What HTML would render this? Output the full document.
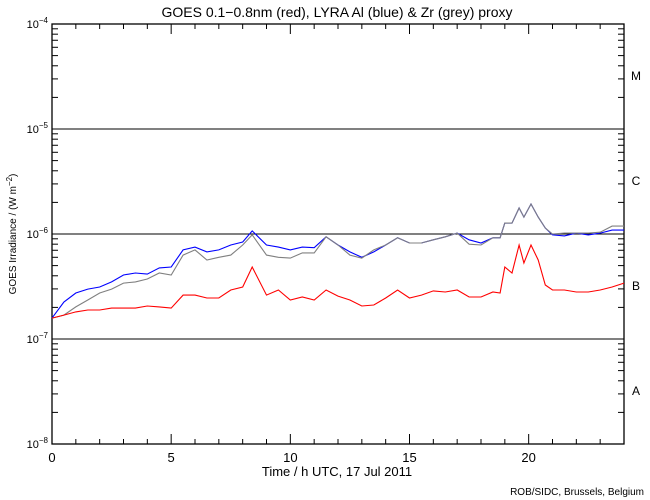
<!DOCTYPE html>
<html><head><meta charset="utf-8"><style>
body{margin:0;background:#fff}
svg{display:block;font-family:"Liberation Sans",sans-serif}
</style></head><body>
<svg id="chart" width="650" height="500" viewBox="0 0 650 500">
<rect width="650" height="500" fill="#fff"/>
<text x="337" y="17" font-size="14" text-anchor="middle">GOES 0.1−0.8nm (red), LYRA Al (blue) &amp; Zr (grey) proxy</text>
<g id="axes"></g>
<g id="series"></g>
<text x="337" y="476" font-size="13" text-anchor="middle">Time / h UTC, 17 Jul 2011</text>
<text transform="translate(16,234) rotate(-90)" font-size="10" text-anchor="middle">GOES Irradiance / (W m<tspan dy="-4" font-size="8">−2</tspan><tspan dy="4">)</tspan></text>
<text x="644" y="495" font-size="10" text-anchor="end">ROB/SIDC, Brussels, Belgium</text>
</svg>
<script>
const hours = [0,0.5,1,1.5,2,2.5,3,3.5,4,4.5,5,5.5,6,6.5,7,7.5,8,8.4,9,9.5,10,10.5,11,11.5,12,12.5,13,13.5,14,14.5,15,15.5,16,16.5,17,17.5,18,18.5,18.8,19,19.3,19.6,19.8,20.1,20.4,20.7,21,21.5,22,22.5,23,23.5,24];
const blueAl = [1.58e-7,2.25e-7,2.74e-7,2.99e-7,3.13e-7,3.5e-7,4.07e-7,4.25e-7,4.15e-7,4.75e-7,4.85e-7,7.05e-7,7.5e-7,6.75e-7,7.05e-7,7.85e-7,8.4e-7,1.07e-6,7.85e-7,7.5e-7,7.05e-7,7.5e-7,7.4e-7,9.4e-7,7.85e-7,6.75e-7,6.0e-7,6.75e-7,7.85e-7,9.2e-7,8.2e-7,8.2e-7,8.8e-7,9.4e-7,1.02e-6,8.8e-7,8.2e-7,9.2e-7,9.2e-7,1.27e-6,1.27e-6,1.77e-6,1.45e-6,1.93e-6,1.45e-6,1.14e-6,9.8e-7,9.6e-7,1.02e-6,9.8e-7,1.02e-6,1.09e-6,1.09e-6];
const greyZr = [1.58e-7,1.69e-7,2.02e-7,2.35e-7,2.74e-7,2.99e-7,3.41e-7,3.5e-7,3.73e-7,4.25e-7,4.07e-7,6.3e-7,7.05e-7,5.65e-7,6.0e-7,6.3e-7,7.85e-7,9.8e-7,6.3e-7,6.0e-7,5.9e-7,6.6e-7,6.6e-7,9.4e-7,7.85e-7,6.3e-7,5.9e-7,7.05e-7,7.85e-7,9.2e-7,8.2e-7,8.2e-7,8.8e-7,9.4e-7,1.02e-6,8.0e-7,7.85e-7,9.2e-7,9.2e-7,1.27e-6,1.27e-6,1.77e-6,1.45e-6,1.93e-6,1.45e-6,1.14e-6,1.0e-6,1.02e-6,1.02e-6,1.02e-6,1.04e-6,1.19e-6,1.19e-6];
const redGoes = [1.58e-7,1.69e-7,1.81e-7,1.89e-7,1.89e-7,1.97e-7,1.97e-7,1.97e-7,2.06e-7,2.02e-7,1.97e-7,2.62e-7,2.62e-7,2.46e-7,2.46e-7,2.93e-7,3.13e-7,4.85e-7,2.62e-7,2.93e-7,2.35e-7,2.51e-7,2.35e-7,2.93e-7,2.56e-7,2.35e-7,2.06e-7,2.11e-7,2.46e-7,2.93e-7,2.46e-7,2.62e-7,2.87e-7,2.8e-7,2.93e-7,2.51e-7,2.51e-7,2.8e-7,2.74e-7,4.85e-7,4.25e-7,7.85e-7,5.3e-7,7.85e-7,5.65e-7,3.27e-7,2.93e-7,2.93e-7,2.8e-7,2.8e-7,2.93e-7,3.13e-7,3.41e-7];
const yTickExps = [-4,-5,-6,-7,-8];
const xTickLabels = [0,5,10,15,20];
const classLabels = ["M","C","B","A"];

const NS="http://www.w3.org/2000/svg";
const L=52,R=624,T=24,B=444;
const xs=h=>L+(R-L)*h/24;
const ys=v=>T+(-4-Math.log10(v))*105;
const ax=document.getElementById('axes'), se=document.getElementById('series');
function mk(tag,attrs,parent){const e=document.createElementNS(NS,tag);for(const k in attrs)e.setAttribute(k,attrs[k]);parent.appendChild(e);return e;}
const frame=mk('rect',{x:L,y:T,width:R-L,height:B-T,fill:'none',stroke:'#000','stroke-width':1.3},ax);


yTickExps.forEach(ex=>{
  const y=ys(Math.pow(10,ex));
  if(ex>-8&&ex<-4){const g=mk('line',{x1:L,x2:R,y1:y,y2:y,stroke:'#000','stroke-width':1.1},ax);
    
    }
  const t=mk('text',{x:L-4,y:y+4,'font-size':11,'text-anchor':'end'},ax);
  
  
  t.innerHTML='10<tspan dy="-5" font-size="8">'+ex.toString().replace('-','−')+'</tspan>';
  if(ex>-8){for(let m=2;m<=9;m++){const yy=ys(m*Math.pow(10,ex-1));
    mk('line',{x1:L,x2:L+6,y1:yy,y2:yy,stroke:'#000'},ax);mk('line',{x1:R-6,x2:R,y1:yy,y2:yy,stroke:'#000'},ax);}}
});
for(let h=1;h<24;h++){const x=xs(h),len=h%5==0?10:5;
  mk('line',{x1:x,x2:x,y1:B,y2:B-len,stroke:'#000'},ax);mk('line',{x1:x,x2:x,y1:T,y2:T+len,stroke:'#000'},ax);}
xTickLabels.forEach(h=>{const t=mk('text',{x:xs(h),y:B+18,'font-size':13,'text-anchor':'middle'},ax);
  
  
  t.textContent=h;});
classLabels.forEach((c,i)=>{const t=mk('text',{x:636,y:ys(Math.pow(10,-4-i))+56,'font-size':12,'text-anchor':'middle'},ax);
  
  
  t.textContent=c;});
function line(vals,color,name){
  const pts=vals.map((v,i)=>xs(hours[i]).toFixed(1)+','+ys(v).toFixed(1)).join(' ');
  const p=mk('polyline',{points:pts,fill:'none',stroke:color,'stroke-width':1.1},se);
  
  
}
line(blueAl,'#0000ff','lyra-al-series');
line(greyZr,'#808080','lyra-zr-series');
line(redGoes,'#ff0000','goes-series');
</script>
</body></html>
